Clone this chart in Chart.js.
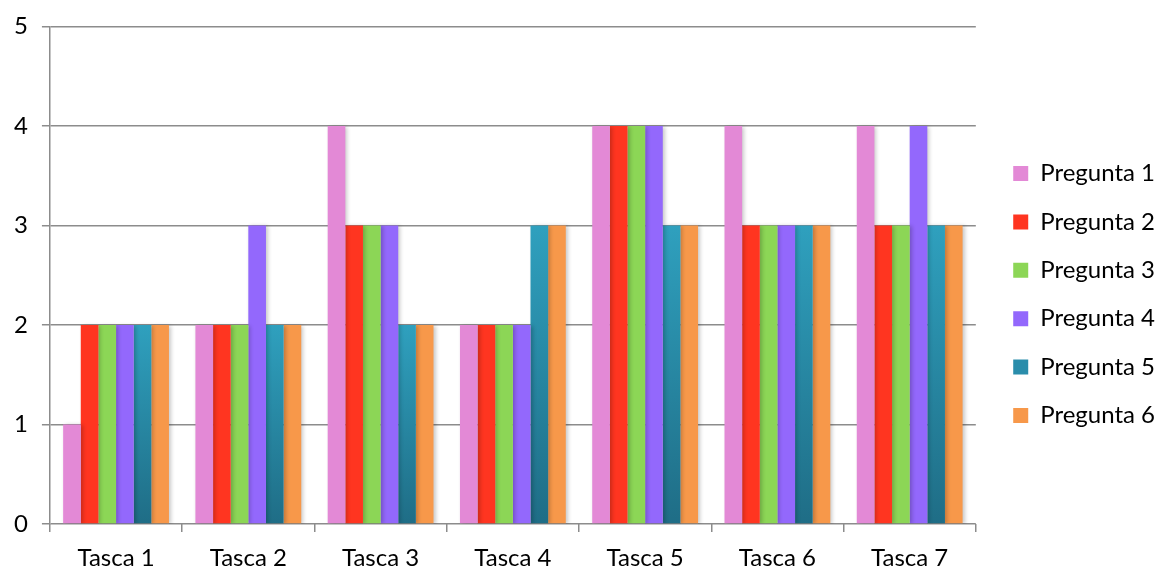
<!DOCTYPE html>
<html>
<head>
<meta charset="utf-8">
<script src="https://cdn.jsdelivr.net/npm/chart.js@4"></script>
<style>
  html, body { margin: 0; padding: 0; background: #fff; }
  #wrap { width: 1163px; height: 570px; }
</style>
</head>
<body>
<div id="wrap"><canvas id="chart" width="1163" height="570"></canvas></div>
<script>
const tascas = ['Tasca 1', 'Tasca 2', 'Tasca 3', 'Tasca 4', 'Tasca 5', 'Tasca 6', 'Tasca 7'];
const pregunta1 = [1, 2, 4, 2, 4, 4, 4];
const pregunta2 = [2, 2, 3, 2, 4, 3, 3];
const pregunta3 = [2, 2, 3, 2, 4, 3, 3];
const pregunta4 = [2, 3, 3, 2, 4, 3, 4];
const pregunta5 = [2, 2, 2, 3, 3, 3, 3];
const pregunta6 = [2, 2, 2, 3, 3, 3, 3];

const FONT = 'Lato, "Open Sans", sans-serif';

// teal bars fade from light at the top to dark at the base
function tealGradient(context) {
    const chart = context.chart;
    const area = chart.chartArea;
    if (!area || context.type !== 'data') return '#2a8fab';
    const y = chart.scales.y;
    const top = y.getPixelForValue(context.parsed.y);
    const bottom = y.getPixelForValue(0);
    const g = chart.ctx.createLinearGradient(0, top, 0, bottom);
    g.addColorStop(0, '#2fa0be');
    g.addColorStop(1, '#1f6d86');
    return g;
}

const barShadow = {
    id: 'barShadow',
    beforeDatasetsDraw(chart) {
        const ctx = chart.ctx;
        ctx.save();
        ctx.shadowColor = 'rgba(0,0,0,0.22)';
        ctx.shadowBlur = 4;
        ctx.shadowOffsetX = 2;
        ctx.shadowOffsetY = 1;
    },
    afterDatasetsDraw(chart) {
        chart.ctx.restore();
    }
};

// nudge the legend a bit further from the plot, like the original
const legendNudge = {
    id: 'legendNudge',
    afterLayout(chart) {
        const l = chart.legend;
        if (!l) return;
        l.left += 13; l.right += 13;
        l.top -= 6; l.bottom -= 6;
    }
};

const series = [
    { label: 'Pregunta 1', data: pregunta1, color: '#e389d6' },
    { label: 'Pregunta 2', data: pregunta2, color: '#ff3520' },
    { label: 'Pregunta 3', data: pregunta3, color: '#8cd656' },
    { label: 'Pregunta 4', data: pregunta4, color: '#9368fc' },
    { label: 'Pregunta 5', data: pregunta5, color: tealGradient },
    { label: 'Pregunta 6', data: pregunta6, color: '#f7984a' }
];

const data = {
    labels: tascas,
    datasets: series.map(s => ({
        label: s.label,
        data: s.data,
        backgroundColor: s.color,
        borderWidth: 0,
        categoryPercentage: 0.8,
        barPercentage: 1.0
    }))
};

const config = {
    type: 'bar',
    data: data,
    options: {
        responsive: false,
        animation: false,
        layout: { padding: { top: 17, right: 11, left: 0, bottom: -14 } },
        plugins: {
            legend: {
                position: 'right',
                labels: {
                    boxWidth: 15,
                    boxHeight: 15,
                    padding: 24.4,
                    color: '#000',
                    font: { family: FONT, size: 24 },
                    generateLabels(chart) {
                        return chart.data.datasets.map((ds, i) => ({
                            text: ds.label,
                            fillStyle: i === 4 ? '#2a8dab' : ds.backgroundColor,
                            strokeStyle: 'rgba(0,0,0,0)',
                            lineWidth: 0,
                            hidden: false,
                            datasetIndex: i
                        }));
                    }
                }
            },
            tooltip: { enabled: false }
        },
        scales: {
            x: {
                grid: {
                    display: true,
                    drawOnChartArea: false,
                    drawTicks: true,
                    tickLength: 8,
                    color: '#8c8c8c',
                    lineWidth: 1.5,
                    offset: true
                },
                border: { display: false },
                ticks: {
                    color: '#000',
                    padding: 14,
                    font: { family: FONT, size: 24, lineHeight: 1 }
                }
            },
            y: {
                min: 0,
                max: 5,
                ticks: {
                    stepSize: 1,
                    color: '#000',
                    padding: 14,
                    font: { family: FONT, size: 24, lineHeight: 1.04 }
                },
                grid: {
                    color: '#8c8c8c',
                    lineWidth: 1.5,
                    tickLength: 8
                },
                border: { display: true, color: '#8c8c8c', width: 1.5 }
            }
        }
    },
    plugins: [barShadow, legendNudge]
};

const ctx = document.getElementById('chart').getContext('2d');
new Chart(ctx, config);
</script>
</body>
</html>
